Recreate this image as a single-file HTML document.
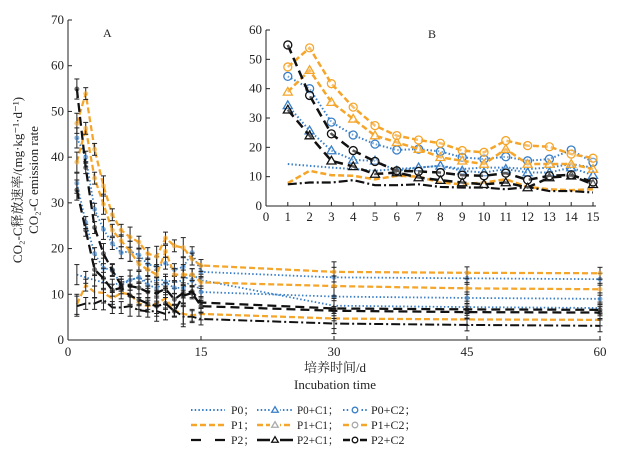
<!DOCTYPE html>
<html><head><meta charset="utf-8">
<style>
body{margin:0;background:#fff;}
svg{display:block;font-family:"Liberation Serif","Noto Serif CJK SC",serif;}
</style></head>
<body>
<svg id="chart" width="621" height="455" viewBox="0 0 621 455"></svg>
<script>
const daysA = [1,2,3,4,5,6,7,8,9,10,11,12,13,14,15];
const daysExt = [30,45,60];
const P0   = [14.3,13.7,13.1,12.6,12.0,12.6,13.1,13.7,12.6,13.1,13.1,12.6,13.1,14.3,13.1];
const P0C1 = [34.3,25.7,18.9,15.7,15.4,12.0,13.1,13.7,12.0,11.4,12.6,11.4,11.4,13.1,10.5];
const P0C2 = [44.2,40.0,28.6,24.2,21.1,19.1,19.4,18.6,16.6,16.0,16.8,15.4,16.0,19.1,14.9];
const P1   = [7.8,12.0,10.5,10.3,9.1,10.3,10.0,8.0,7.4,8.0,9.1,6.5,5.7,5.4,5.7];
const P1C1 = [38.9,46.3,35.4,29.7,24.0,21.7,19.4,16.6,15.4,14.3,19.4,14.3,14.3,14.3,12.6];
const P1C2 = [47.4,53.9,41.7,33.7,27.4,24.0,22.5,21.4,18.9,18.3,22.3,20.6,20.2,17.7,16.3];
const P2   = [7.4,8.0,8.0,8.8,7.1,7.1,7.4,6.5,6.3,6.3,5.7,6.5,5.1,5.1,4.6];
const P2C1 = [32.8,24.0,15.4,13.5,10.9,11.4,9.7,8.8,8.0,7.4,8.0,6.3,9.7,10.3,7.4];
const P2C2 = [54.9,37.7,24.6,18.9,15.2,12.0,11.8,11.4,10.5,10.3,11.2,8.9,10.3,10.6,8.2];
const P0ext=[7.5,7.2,7.0], P0C1ext=[9.5,9.2,9.0], P0C2ext=[13.7,13.5,13.3];
const P1ext=[4.7,4.5,4.4], P1C1ext=[11.8,11.3,11.1], P1C2ext=[14.9,14.7,14.6];
const P2ext=[3.6,3.3,3.1], P2C1ext=[6.4,6.1,6.0], P2C2ext=[6.9,6.7,6.6];
const yTicksA=[0,10,20,30,40,50,60,70], xTicksA=[0,15,30,45,60];
const yTicksB=[0,10,20,30,40,50,60], xTicksB=[0,1,2,3,4,5,6,7,8,9,10,11,12,13,14,15];

const BLUE="#3a7fc6", ORANGE="#f5a52a", BLACK="#111";
const series=[
 {n:"p0",d:P0,e:P0ext,c:BLUE,da:"1.5,2.2",w:2,m:null},
 {n:"p0-c1",d:P0C1,e:P0C1ext,c:BLUE,da:"1.5,2.2",w:2,m:"tri"},
 {n:"p0-c2",d:P0C2,e:P0C2ext,c:BLUE,da:"1.5,2.2",w:2,m:"circ"},
 {n:"p1",d:P1,e:P1ext,c:ORANGE,da:"6,3",w:2.5,m:null},
 {n:"p1-c1",d:P1C1,e:P1C1ext,c:ORANGE,da:"6,3",w:2.5,m:"tri"},
 {n:"p1-c2",d:P1C2,e:P1C2ext,c:ORANGE,da:"6,3",w:2.5,m:"circ"},
 {n:"p2",d:P2,e:P2ext,c:BLACK,da:"9,3,2,3",w:2.2,m:null},
 {n:"p2-c1",d:P2C1,e:P2C1ext,c:BLACK,da:"9,5",w:2.5,m:"tri"},
 {n:"p2-c2",d:P2C2,e:P2C2ext,c:BLACK,da:"9,5",w:2.5,m:"circ"}
];
const NS="http://www.w3.org/2000/svg";
const svg=document.getElementById('chart');
function el(t,a,p){const e=document.createElementNS(NS,t);for(const k in a)e.setAttribute(k,a[k]);(p||svg).appendChild(e);return e;}
function txt(s,x,y,a,p){const e=el('text',Object.assign({x:x,y:y,'font-size':13,fill:'#222'},a||{}),p);e.textContent=s;return e;}

const xA=v=>68+v*(532/60), yA=v=>340-v*(320/70);
const gA=el('g',{});


el('line',{x1:68,y1:20,x2:68,y2:340,stroke:'#222'},gA);
el('line',{x1:68,y1:340,x2:601,y2:340,stroke:'#222'},gA);
yTicksA.forEach(v=>{el('line',{x1:68,x2:72,y1:yA(v),y2:yA(v),stroke:'#222'},gA);
 const t=txt(String(v),64,yA(v)+4,{'text-anchor':'end'},gA);
 
 });
xTicksA.forEach(v=>{el('line',{x1:xA(v),x2:xA(v),y1:340,y2:336,stroke:'#222'},gA);
 const t=txt(String(v),xA(v),356,{'text-anchor':'middle'},gA);
 
 });
txt('A',103,37,{'font-size':12},gA);

series.forEach(s=>{
 const xs=daysA.concat(daysExt);
 const ys=s.d.concat(s.e);
 const g=el('g',{},gA);
 
 
 el('polyline',{points:xs.map((x,i)=>xA(x)+','+yA(ys[i])).join(' '),fill:'none',stroke:s.c,'stroke-width':s.w*0.9,'stroke-dasharray':s.da},g);
 xs.forEach((x,i)=>{const e=(i%3===0?2.2:1.3);
  el('line',{x1:xA(x),x2:xA(x),y1:yA(ys[i]+e),y2:yA(ys[i]-e),stroke:'#222','stroke-width':1},g);
  el('line',{x1:xA(x)-2.5,x2:xA(x)+2.5,y1:yA(ys[i]+e),y2:yA(ys[i]+e),stroke:'#222'},g);
  el('line',{x1:xA(x)-2.5,x2:xA(x)+2.5,y1:yA(ys[i]-e),y2:yA(ys[i]-e),stroke:'#222'},g);
  if(s.m) el('circle',{cx:xA(x),cy:yA(ys[i]),r:2.5,fill:s.c,opacity:0.6},g);
 });
});

const xB=v=>266+v*(327/15), yB=v=>206-v*(176/60);
el('rect',{x:230,y:22,width:380,height:210,fill:'#fff'});
const gB=el('g',{});


el('line',{x1:266,y1:30,x2:266,y2:206,stroke:'#222'},gB);
el('line',{x1:266,y1:206,x2:596,y2:206,stroke:'#222'},gB);
yTicksB.forEach(v=>{el('line',{x1:266,x2:270,y1:yB(v),y2:yB(v),stroke:'#222'},gB);
 const t=txt(String(v),262,yB(v)+4,{'text-anchor':'end'},gB);
 
 });
xTicksB.forEach(v=>{el('line',{x1:xB(v),x2:xB(v),y1:206,y2:202,stroke:'#222'},gB);
 const t=txt(String(v),xB(v),221,{'text-anchor':'middle'},gB);
 
 });
txt('B',428,38,{'font-size':12},gB);
function marker(m,x,y,c,p,r){
 r=r||4;
 if(m==='tri') el('polygon',{points:`${x},${y-r-0.5} ${x-r-0.5},${y+r*0.8} ${x+r+0.5},${y+r*0.8}`,fill:'#fff','fill-opacity':0.3,stroke:c,'stroke-width':1.3},p);
 else if(m==='circ'){el('circle',{cx:x,cy:y,r:r,fill:'#fff','fill-opacity':0.3,stroke:c,'stroke-width':1.3},p);}
}
series.forEach(s=>{
 const g=el('g',{},gB);
 
 
 el('polyline',{points:daysA.map((x,i)=>xB(x)+','+yB(s.d[i])).join(' '),fill:'none',stroke:s.c,'stroke-width':s.w,'stroke-dasharray':s.da},g);
 if(s.m) daysA.forEach((x,i)=>marker(s.m,xB(x),yB(s.d[i]),s.c,g));
});

const yt=el('g',{transform:'translate(22,180) rotate(-90)'});


txt('CO₂-C释放速率/(mg·kg⁻¹·d⁻¹)',0,0,{'text-anchor':'middle','font-size':13},yt);
txt('CO₂-C emission rate',0,16,{'text-anchor':'middle','font-size':13},yt);
const xt1=txt('培养时间/d',335,372,{'text-anchor':'middle'});


const xt2=txt('Incubation time',335,389,{'text-anchor':'middle'});



const legNames=["P0；","P0+C1；","P0+C2；","P1；","P1+C1；","P1+C2；","P2；","P2+C1；","P2+C2"];
const colX=[191,257,343], colW=[34,36,24], textX=[231,297,371], textW=[24,42,0];
series.forEach((s,i)=>{
 const r=Math.floor(i/3), c=i%3, y=410+r*15;
 const g=el('g',{});
 
 
 el('line',{x1:colX[c],x2:colX[c]+colW[c],y1:y,y2:y,stroke:s.c,'stroke-width':s.w,'stroke-dasharray':i===6?'10,14':(s.c===BLACK?'none':s.da)},g);
 const mx=colX[c]+colW[c]/2;
 if(s.m){el('rect',{x:mx-5,y:y-4,width:10,height:8,fill:'#fff'},g);marker(s.m,mx,y,s.c===ORANGE?'#aaa':s.c,g,2.8);}
 const a={'font-size':12};
 if(textW[c]) {a.textLength=textW[c]; a.lengthAdjust='spacingAndGlyphs';}
 txt(legNames[i],textX[c],y+4,a,g);
});
</script>
</body></html>
